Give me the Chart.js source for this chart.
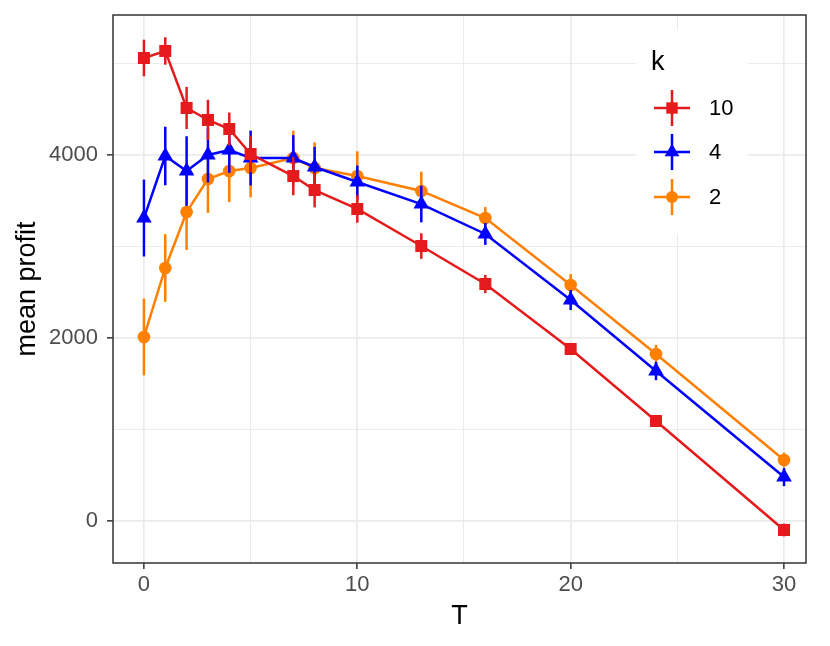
<!DOCTYPE html>
<html>
<head>
<meta charset="utf-8">
<script src="https://cdn.jsdelivr.net/npm/chart.js@4.4.1/dist/chart.umd.min.js"></script>
<style>
  html, body { margin: 0; background: #fff; }
</style>
</head>
<body>
<canvas id="chart" width="830" height="646"></canvas>
<script>
const T = [0, 1, 2, 3, 4, 5, 7, 8, 10, 13, 16, 20, 24, 30];
const k10 = [5060, 5137, 4514, 4383, 4284, 4011, 3770, 3617, 3410, 3005, 2590, 1880, 1093, -98];
const err10 = [200, 150, 230, 220, 180, 200, 210, 190, 150, 140, 100, 60, 60, 70];
const k4 = [3311, 3989, 3825, 4000, 4055, 3967, 3967, 3869, 3705, 3464, 3137, 2415, 1639, 481];
const err4 = [420, 320, 380, 300, 250, 300, 250, 220, 180, 200, 120, 110, 100, 100];
const k2 = [2011, 2765, 3377, 3738, 3825, 3858, 3967, 3858, 3770, 3607, 3311, 2579, 1825, 667];
const err2 = [420, 370, 415, 370, 340, 320, 300, 280, 270, 210, 120, 120, 100, 80];
const xTicks = [0, 5, 10, 15, 20, 25, 30];
const yTicks = [0, 1000, 2000, 3000, 4000, 5000];
const xMajor = [0, 10, 20, 30];
const yMajor = [0, 2000, 4000];

const FONT = "'Liberation Sans', Arial, sans-serif";

const series = [
  { label: "10", data: k10, err: err10, color: "#E41A1C", style: "rect", radius: 8.5 },
  { label: "4", data: k4, err: err4, color: "#0000FF", style: "triangle", radius: 9 },
  { label: "2", data: k2, err: err2, color: "#FF7F00", style: "circle", radius: 6.3 }
];

function pointsOf(vals) {
  return T.map((t, i) => ({ x: t, y: vals[i] }));
}

// vertical error bars, drawn under each dataset's line
const errorBars = {
  id: "errorBars",
  beforeDatasetDraw(chart, args) {
    const s = series[args.index];
    const { ctx, scales } = chart;
    ctx.save();
    ctx.strokeStyle = s.color;
    ctx.lineWidth = 2.5;
    T.forEach((t, i) => {
      const x = scales.x.getPixelForValue(t);
      ctx.beginPath();
      ctx.moveTo(x, scales.y.getPixelForValue(s.data[i] - s.err[i]));
      ctx.lineTo(x, scales.y.getPixelForValue(s.data[i] + s.err[i]));
      ctx.stroke();
    });
    ctx.restore();
  }
};

function drawMark(ctx, style, x, y, r, color) {
  ctx.fillStyle = color;
  ctx.beginPath();
  if (style === "rect") {
    const h = r * Math.SQRT1_2;
    ctx.rect(x - h, y - h, 2 * h, 2 * h);
  } else if (style === "triangle") {
    ctx.moveTo(x, y - r);
    ctx.lineTo(x + r * 0.866, y + r * 0.5);
    ctx.lineTo(x - r * 0.866, y + r * 0.5);
    ctx.closePath();
  } else {
    ctx.arc(x, y, r, 0, Math.PI * 2);
  }
  ctx.fill();
}

// panel border and the "k" legend inside the panel
const panelAndLegend = {
  id: "panelAndLegend",
  afterDraw(chart) {
    const { ctx, chartArea: a } = chart;
    ctx.save();
    ctx.fillStyle = "#fff";
    ctx.fillRect(636, 30, 112, 204);
    ctx.fillStyle = "#000";
    ctx.font = "27px " + FONT;
    ctx.textBaseline = "alphabetic";
    ctx.fillText("k", 651, 70);
    const rows = [108, 152, 197];
    series.forEach((s, i) => {
      const cx = 672, cy = rows[i];
      ctx.strokeStyle = s.color;
      ctx.lineWidth = 2.5;
      ctx.beginPath();
      ctx.moveTo(654, cy); ctx.lineTo(690, cy);
      ctx.moveTo(cx, cy - 18); ctx.lineTo(cx, cy + 18);
      ctx.stroke();
      drawMark(ctx, s.style, cx, cy, s.radius * 0.95, s.color);
      ctx.fillStyle = "#000";
      ctx.font = "22px " + FONT;
      ctx.textBaseline = "middle";
      ctx.fillText(s.label, 709, cy + 1);
    });
    ctx.strokeStyle = "#333333";
    ctx.lineWidth = 1.5;
    ctx.strokeRect(a.left, a.top, a.right - a.left, a.bottom - a.top);
    ctx.restore();
  }
};

new Chart(document.getElementById("chart"), {
  type: "line",
  data: {
    datasets: series.map(s => ({
      label: s.label,
      data: pointsOf(s.data),
      borderColor: s.color,
      backgroundColor: s.color,
      borderWidth: 2.5,
      pointStyle: s.style,
      pointRadius: s.radius,
      pointBorderWidth: 0,
      pointHoverRadius: s.radius,
      tension: 0
    }))
  },
  options: {
    responsive: false,
    animation: false,
    layout: { padding: { top: 15, right: 24, left: 0, bottom: 0 } },
    plugins: { legend: { display: false }, tooltip: { enabled: false } },
    scales: {
      x: {
        type: "linear",
        min: -1.45,
        max: 31.03,
        afterBuildTicks: sc => { sc.ticks = xTicks.map(v => ({ value: v })); },
        afterFit: sc => { sc.height = 83; sc.paddingLeft = 0; sc.paddingRight = 0; },
        border: { display: false },
        grid: {
          color: "#ebebeb",
          lineWidth: c => xMajor.includes(c.tick.value) ? 1.7 : 1,
          tickColor: c => xMajor.includes(c.tick.value) ? "#333333" : "rgba(0,0,0,0)",
          tickWidth: 1.5,
          tickLength: 6
        },
        ticks: {
          padding: 3,
          color: "#4d4d4d",
          font: { family: FONT, size: 22 },
          maxRotation: 0,
          callback: v => xMajor.includes(v) ? String(v) : ""
        },
        title: {
          display: true,
          text: "T",
          color: "#000",
          font: { family: FONT, size: 27 },
          padding: { top: 0, bottom: 13 }
        }
      },
      y: {
        type: "linear",
        min: -459,
        max: 5530,
        afterBuildTicks: sc => { sc.ticks = yTicks.map(v => ({ value: v })); },
        afterFit: sc => { sc.width = 113; sc.paddingTop = 0; sc.paddingBottom = 0; },
        border: { display: false },
        grid: {
          color: "#ebebeb",
          lineWidth: c => yMajor.includes(c.tick.value) ? 1.7 : 1,
          tickColor: c => yMajor.includes(c.tick.value) ? "#333333" : "rgba(0,0,0,0)",
          tickWidth: 1.5,
          tickLength: 6
        },
        ticks: {
          padding: 9,
          color: "#4d4d4d",
          font: { family: FONT, size: 22 },
          callback: v => yMajor.includes(v) ? String(v) : ""
        },
        title: {
          display: true,
          text: "mean profit",
          color: "#000",
          font: { family: FONT, size: 27 },
          padding: { top: 11, bottom: 0 }
        }
      }
    }
  },
  plugins: [errorBars, panelAndLegend]
});
</script>
</body>
</html>
